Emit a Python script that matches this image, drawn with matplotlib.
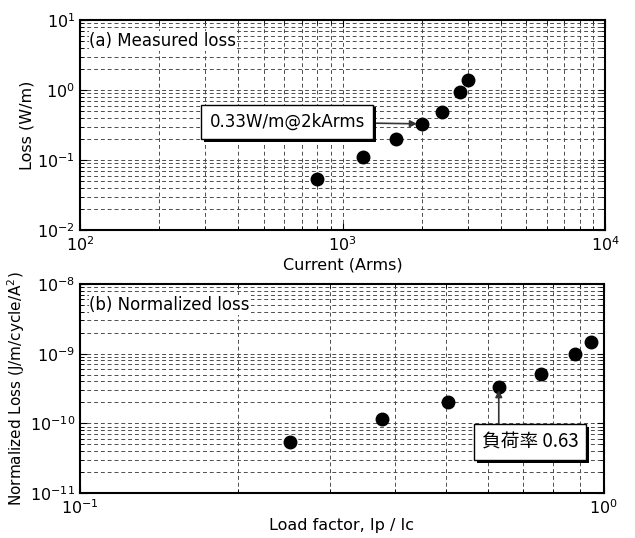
import numpy as np
import matplotlib
matplotlib.use("Agg")
import matplotlib.pyplot as plt
import matplotlib.patheffects as pe
from matplotlib.ticker import NullFormatter

plt.rcParams['font.family'] = ['DejaVu Sans']

# measured AC loss vs transport current
current_arms = [800, 1200, 1600, 2000, 2400, 2800, 3000]
loss_w_per_m = [0.0535, 0.110, 0.20, 0.33, 0.485, 0.94, 1.39]

# normalized loss vs load factor
load_factor = [0.252, 0.377, 0.503, 0.63, 0.759, 0.881, 0.945]
norm_loss = [5.4e-11, 1.16e-10, 2.03e-10, 3.33e-10, 5.1e-10, 9.9e-10, 1.47e-9]

fig = plt.figure(figsize=(6.35, 5.38), dpi=100)
ax1 = fig.add_axes([0.126, 0.5725, 0.827, 0.390])
ax2 = fig.add_axes([0.126, 0.0836, 0.825, 0.3885])

shadow = [pe.SimplePatchShadow(offset=(2, -2), shadow_rgbFace='black', alpha=1.0), pe.Normal()]


def style_axes(ax):
    ax.set_xscale('log')
    ax.set_yscale('log')
    ax.grid(True, which='both', color='0.3', linestyle=(0, (4, 3)), linewidth=0.7)
    ax.set_axisbelow(True)
    for sp in ax.spines.values():
        sp.set_linewidth(1.5)
    ax.tick_params(which='both', direction='in', top=True, right=True, labelsize=11.5)
    ax.tick_params(which='major', length=5)
    ax.tick_params(which='minor', length=3)
    ax.xaxis.set_minor_formatter(NullFormatter())
    ax.yaxis.set_minor_formatter(NullFormatter())


# (a) measured loss
style_axes(ax1)
ax1.plot(current_arms, loss_w_per_m, 'o', color='black', markersize=9)
ax1.set_xlim(1e2, 1e4)
ax1.set_ylim(1e-2, 1e1)
ax1.set_xlabel('Current (Arms)', fontsize=11.5, labelpad=3)
ax1.set_ylabel('Loss (W/m)', fontsize=11.5, labelpad=2)
ax1.text(0.018, 0.9, '(a) Measured loss', transform=ax1.transAxes, fontsize=12,
         va='center', ha='left', bbox=dict(fc='white', ec='none', pad=0.5))
t1 = ax1.annotate('0.33W/m@2kArms', xy=(current_arms[3] * 0.96, loss_w_per_m[3]),
                  xytext=(0.395, 0.515), textcoords='axes fraction', fontsize=12,
                  ha='center', va='center',
                  bbox=dict(boxstyle='square,pad=0.5', fc='white', ec='black', lw=1),
                  arrowprops=dict(arrowstyle='-|>', color='0.2', lw=1.2, mutation_scale=10,
                                  shrinkA=0, shrinkB=0))
t1.get_bbox_patch().set_path_effects(shadow)

# (b) normalized loss
style_axes(ax2)
ax2.plot(load_factor, norm_loss, 'o', color='black', markersize=9)
ax2.set_xlim(1e-1, 1e0)
ax2.set_ylim(1e-11, 1e-8)
ax2.set_xlabel('Load factor, Ip / Ic', fontsize=11.5, labelpad=1)
ax2.set_ylabel('Normalized Loss (J/m/cycle/A$^2$)', fontsize=11, labelpad=2)
ax2.text(0.018, 0.9, '(b) Normalized loss', transform=ax2.transAxes, fontsize=12,
         va='center', ha='left', bbox=dict(fc='white', ec='none', pad=0.5))
# vertical arrow from the label box up to the 0.63 point
ax2.annotate('', xy=(load_factor[3], norm_loss[3] * 0.9), xytext=(load_factor[3], 1.0e-10),
             arrowprops=dict(arrowstyle='-|>', color='0.2', lw=1.2, mutation_scale=10,
                             shrinkA=0, shrinkB=0))
t2 = ax2.text(0.859, 0.244, '負荷率 0.63', transform=ax2.transAxes, fontsize=13.5,
              ha='center', va='center', family=['Noto Sans CJK JP', 'DejaVu Sans'],
              bbox=dict(boxstyle='square,pad=0.4', fc='white', ec='black', lw=1))
t2.get_bbox_patch().set_path_effects(shadow)

fig.savefig('out.png', dpi=100)
